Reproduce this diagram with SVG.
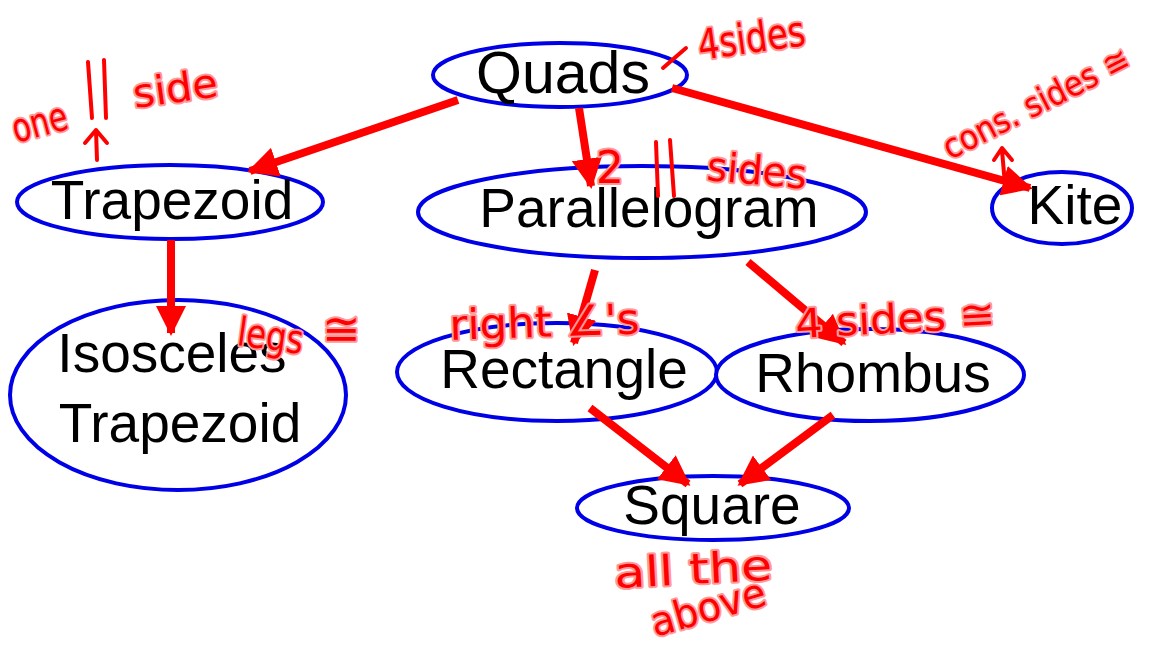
<svg xmlns="http://www.w3.org/2000/svg" width="1150" height="646" viewBox="0 0 1150 646">
<style>
.node{fill:#fff;stroke:#0000e6;stroke-width:4}
.lbl{font-family:"Liberation Sans",Arial,sans-serif;font-size:55px;fill:#000;text-anchor:middle}
.edge{stroke:#ff0000;stroke-width:8;fill:none}
.ink{font-family:"DejaVu Sans","Noto Sans",sans-serif;fill:#ff0000;stroke:#ff9a9a;stroke-width:4;paint-order:stroke;stroke-linejoin:round}
.pen{fill:none;stroke:#ff0000;stroke-width:4;stroke-linecap:round;stroke-linejoin:round}
</style>
<defs>
<marker id="ah" viewBox="0 0 10 10" refX="9" refY="5" markerWidth="3.8" markerHeight="3.8" orient="auto" markerUnits="strokeWidth">
<path d="M0,0 L10,5 L0,10 z" fill="#ff0000"/>
</marker>
</defs>
<g id="n-quads"><ellipse class="node" cx="560" cy="75" rx="127" ry="32"/><text class="lbl" x="563" y="93" style="font-size:59px">Quads</text></g>
<g id="n-trapezoid"><ellipse class="node" cx="170" cy="202" rx="153" ry="37"/><text class="lbl" x="172" y="219">Trapezoid</text></g>
<g id="n-parallelogram"><ellipse class="node" cx="642" cy="212" rx="224" ry="46"/><text class="lbl" x="649" y="227">Parallelogram</text></g>
<g id="n-kite"><ellipse class="node" cx="1062" cy="208" rx="70" ry="36"/><text class="lbl" x="1075" y="224">Kite</text></g>
<g id="n-isosceles"><ellipse class="node" cx="178" cy="395" rx="168" ry="95"/><text class="lbl" x="172" y="372">Isosceles</text><text class="lbl" x="180" y="442">Trapezoid</text></g>
<g id="n-rectangle"><ellipse class="node" cx="557" cy="372" rx="160" ry="49"/><text class="lbl" x="564" y="388">Rectangle</text></g>
<g id="n-rhombus"><ellipse class="node" cx="870" cy="375" rx="154" ry="46"/><text class="lbl" x="873" y="392">Rhombus</text></g>
<g id="n-square"><ellipse class="node" cx="713" cy="508" rx="136" ry="32"/><text class="lbl" x="712" y="524">Square</text></g>
<g id="connectors">
<path class="edge" marker-end="url(#ah)" d="M458,100 L250,171"/>
<path class="edge" marker-end="url(#ah)" d="M579,108 L591,186"/>
<path class="edge" marker-end="url(#ah)" d="M672,88 L1030,188"/>
<path class="edge" marker-end="url(#ah)" d="M171,240 L171,333"/>
<path class="edge" marker-end="url(#ah)" d="M595,270 L574,343"/>
<path class="edge" marker-end="url(#ah)" d="M748,262 L844,343"/>
<path class="edge" marker-end="url(#ah)" d="M590,408 L688,484"/>
<path class="edge" marker-end="url(#ah)" d="M833,415 L740,484"/>
</g>
<g id="annotations">
<path class="pen" d="M663,68 L686,48"/>
<text class="ink" x="700" y="60" font-size="42" textLength="108" lengthAdjust="spacingAndGlyphs" transform="rotate(-8 700 60)">4sides</text>
<text class="ink" x="16" y="143" font-size="40" textLength="56" lengthAdjust="spacingAndGlyphs" transform="rotate(-15 16 143)">one</text>
<path class="pen" d="M88,62 L92,118 M104,60 L106,118"/>
<path class="pen" d="M97,160 L96,130 M85,143 L96,130 L107,143"/>
<text class="ink" x="135" y="108" font-size="40" textLength="85" lengthAdjust="spacingAndGlyphs" transform="rotate(-8 135 108)">side</text>
<text class="ink" x="950" y="160" font-size="34" textLength="205" lengthAdjust="spacingAndGlyphs" transform="rotate(-27 950 160)">cons. sides ≅</text>
<path class="pen" d="M1005,185 L1002,150 M994,160 L1002,148 L1012,160"/>
<text class="ink" x="596" y="183" font-size="44">2</text>
<path class="pen" d="M656,142 L658,196 M670,140 L674,196"/>
<text class="ink" x="706" y="180" font-size="40" textLength="100" lengthAdjust="spacingAndGlyphs" transform="rotate(5 706 180)">sides</text>
<text class="ink" x="236" y="345" font-size="40" textLength="66" lengthAdjust="spacingAndGlyphs" transform="rotate(8 236 345)">legs</text>
<text class="ink" x="322" y="345" font-size="46">≅</text>
<text class="ink" x="450" y="340" font-size="42" textLength="190" lengthAdjust="spacingAndGlyphs" transform="rotate(-2 450 340)">right ∠'s</text>
<text class="ink" x="796" y="338" font-size="40" textLength="200" lengthAdjust="spacingAndGlyphs" transform="rotate(-3 796 338)">4 sides ≅</text>
<text class="ink" x="615" y="588" font-size="42" textLength="158" lengthAdjust="spacingAndGlyphs" transform="rotate(-3 615 588)">all the</text>
<text class="ink" x="655" y="637" font-size="40" textLength="118" lengthAdjust="spacingAndGlyphs" transform="rotate(-16 655 637)">above</text>
</g>
</svg>
